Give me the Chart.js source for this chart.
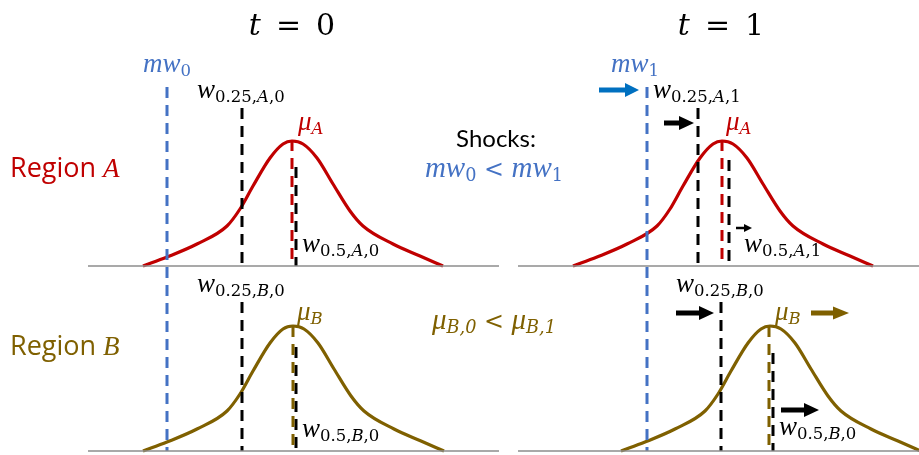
<!DOCTYPE html>
<html>
<head>
<meta charset="utf-8">
<script src="https://cdn.jsdelivr.net/npm/chart.js@4"></script>
<style>
  body { margin: 0; background: #fff; }
  #wrap { width: 919px; height: 455px; position: relative; }
</style>
</head>
<body>
<div id="wrap"><canvas id="grafico_choques"></canvas></div>
<script>
// coordenadas do desenho: x 0..919, y 0..455 (de cima para baixo)

// curvas
var curvaA0x = [143, 167, 197, 227, 240, 253, 270, 283, 292, 303, 317, 333, 350, 363, 393, 420, 443];
var curvaA0y = [266, 257, 244, 226, 209, 186, 158, 144, 141, 144, 158, 184, 211, 226, 244, 256, 266];
var curvaA1x = [573, 597, 627, 657, 670, 683, 700, 713, 722, 733, 747, 763, 780, 793, 823, 850, 873];
var curvaA1y = [266, 257, 244, 226, 209, 186, 158, 144, 141, 144, 158, 184, 211, 226, 244, 256, 266];
var curvaB0x = [143, 167, 197, 227, 240, 253, 270, 283, 293, 304, 318, 334, 351, 364, 394, 421, 444];
var curvaB0y = [451, 442, 429, 411, 394, 371, 343, 329, 326, 329, 343, 369, 396, 411, 429, 441, 451];
var curvaB1x = [621, 645, 675, 705, 718, 731, 748, 761, 770, 781, 795, 811, 828, 841, 871, 898, 921];
var curvaB1y = [451, 442, 429, 411, 394, 371, 343, 329, 326, 329, 343, 369, 396, 411, 429, 441, 451];

// linhas verticais tracejadas
var guiaX      = [167, 647, 242, 292, 296, 698, 722, 729, 242, 293, 296, 721, 769, 773];
var guiaTopo   = [ 87,  87, 108, 140, 167, 108, 140, 160, 302, 326, 347, 302, 326, 353];
var guiaBase   = [451, 451, 266, 266, 266, 266, 266, 266, 451, 451, 451, 451, 451, 451];
var guiaTipo   = ['mw', 'mw', 'q', 'muA', 'q', 'q', 'muA', 'q', 'q', 'muB', 'q', 'q', 'muB', 'q'];

// linhas de base
var baseIni = [88, 518, 88, 518];
var baseFim = [499, 919, 499, 919];
var baseY   = [266, 266, 451, 451];

// setas
var setaIni  = [599, 664, 736, 676, 811, 781];
var setaFim  = [639, 694, 752, 714, 849, 819];
var setaY    = [90, 123, 228, 313, 313, 410];
var setaTipo = ['azul', 'preta', 'pequena', 'preta', 'marrom', 'preta'];

// textos: partes [texto, estilo]
// i = italico, t = italico (titulo), r = normal, s = subscrito, si = subscrito italico, sans / sans2 = texto
var textos = [
  [['t', 't'], ['\u2002=\u20020', 'r']],
  [['t', 't'], ['\u2002=\u20021', 'r']],
  [['mw', 'i'], ['0', 's']],
  [['mw', 'i'], ['1', 's']],
  [['w', 'i'], ['0.25,', 's'], ['A', 'si'], [',0', 's']],
  [['w', 'i'], ['0.25,', 's'], ['A', 'si'], [',1', 's']],
  [['μ', 'i'], ['A', 'si']],
  [['μ', 'i'], ['A', 'si']],
  [['w', 'i'], ['0.5,', 's'], ['A', 'si'], [',0', 's']],
  [['w', 'i'], ['0.5,', 's'], ['A', 'si'], [',1', 's']],
  [['Region ', 'sans'], ['A', 'i']],
  [['Shocks:', 'sans2']],
  [['mw', 'i'], ['0', 's'], [' < ', 'r'], ['mw', 'i'], ['1', 's']],
  [['w', 'i'], ['0.25,', 's'], ['B', 'si'], [',0', 's']],
  [['w', 'i'], ['0.25,', 's'], ['B', 'si'], [',0', 's']],
  [['μ', 'i'], ['B', 'si']],
  [['μ', 'i'], ['B', 'si']],
  [['Region ', 'sans'], ['B', 'i']],
  [['μ', 'i'], ['B,0', 'si'], [' < ', 'r'], ['μ', 'i'], ['B,1', 'si']],
  [['w', 'i'], ['0.5,', 's'], ['B', 'si'], [',0', 's']],
  [['w', 'i'], ['0.5,', 's'], ['B', 'si'], [',0', 's']]
];
var textoX = [292, 721, 143, 611, 197, 653, 298, 726, 302, 744, 10, 496, 494, 197, 676, 297, 775, 10, 494, 302, 779];
var textoY = [35, 35, 72, 72, 98, 98, 130, 130, 252, 252, 177, 147, 177, 292, 292, 320, 320, 355, 329, 437, 435];
var textoCor = ['preto', 'preto', 'azul', 'azul', 'preto', 'preto', 'vermelho', 'vermelho', 'preto', 'preto',
  'vermelho', 'preto', 'azul', 'preto', 'preto', 'marrom', 'marrom', 'marrom', 'marrom', 'preto', 'preto'];
var textoTam = ['grande', 'grande', 'm', 'm', 'm', 'm', 'm', 'm', 'm', 'm',
  'regiao', 'shock', 'rel', 'm', 'm', 'm', 'm', 'regiao', 'rel', 'm', 'm'];
var textoAlinha = ['c', 'c', 'l', 'l', 'l', 'l', 'l', 'l', 'l', 'l', 'l', 'c', 'c', 'l', 'l', 'l', 'l', 'l', 'c', 'l', 'l'];

// estilos
var cores = {
  preto: '#000000',
  azul: '#4472C4',
  vermelho: '#C00000',
  marrom: '#7F6000'
};
var tamanhos = { grande: 30, m: 27, rel: 29, regiao: 27, shock: 24 };
var estiloGuia = {
  mw:  { cor: '#4472C4', dash: [11, 7] },
  q:   { cor: '#000000', dash: [11, 7] },
  muA: { cor: '#C00000', dash: [11, 7] },
  muB: { cor: '#7F6000', dash: [11, 7] }
};
var estiloSeta = {
  azul:    { cor: '#0070C0', haste: 5, cab: 14, alt: 14 },
  preta:   { cor: '#000000', haste: 5, cab: 15, alt: 14 },
  pequena: { cor: '#000000', haste: 2.5, cab: 8, alt: 8 },
  marrom:  { cor: '#7F6000', haste: 5, cab: 16, alt: 13 }
};

function juntar(xs, ys) {
  var pts = [];
  for (var i = 0; i < xs.length; i++) pts.push({ x: xs[i], y: ys[i] });
  return pts;
}

function curva(xs, ys, cor) {
  return {
    data: juntar(xs, ys),
    borderColor: cor,
    borderWidth: 3.2,
    pointRadius: 0,
    showLine: true,
    cubicInterpolationMode: 'monotone',
    clip: false
  };
}

var datasets = [];

for (var b = 0; b < baseY.length; b++) {
  datasets.push({
    data: [{ x: baseIni[b], y: baseY[b] }, { x: baseFim[b], y: baseY[b] }],
    borderColor: '#8C8C8C',
    borderWidth: 1.5,
    pointRadius: 0,
    showLine: true
  });
}

for (var g = 0; g < guiaX.length; g++) {
  var eg = estiloGuia[guiaTipo[g]];
  datasets.push({
    data: [{ x: guiaX[g], y: guiaTopo[g] }, { x: guiaX[g], y: guiaBase[g] }],
    borderColor: eg.cor,
    borderWidth: 3,
    borderDash: eg.dash,
    borderCapStyle: 'butt',
    pointRadius: 0,
    showLine: true
  });
}

datasets.push(curva(curvaA0x, curvaA0y, cores.vermelho));
datasets.push(curva(curvaA1x, curvaA1y, cores.vermelho));
datasets.push(curva(curvaB0x, curvaB0y, cores.marrom));
datasets.push(curva(curvaB1x, curvaB1y, cores.marrom));

function fonte(estilo, tam) {
  if (estilo == 'sans') return tam + 'px "Open Sans"';
  if (estilo == 'sans2') return tam + 'px Lato';
  if (estilo == 'i') return 'italic ' + tam + 'px "Liberation Serif"';
  if (estilo == 't') return 'italic ' + tam + 'px "DejaVu Serif"';
  if (estilo == 'r') return (tam * 0.82).toFixed(1) + 'px "DejaVu Serif"';
  var ts = (tam * 0.61).toFixed(1);
  if (estilo == 'si') return 'italic ' + ts + 'px "DejaVu Serif"';
  return ts + 'px "DejaVu Serif"';
}

var pluginTextos = {
  id: 'textos',
  afterDatasetsDraw: function (chart) {
    var ctx = chart.ctx;
    var sx = chart.scales.x, sy = chart.scales.y;
    ctx.save();

    // setas
    for (var a = 0; a < setaY.length; a++) {
      var es = estiloSeta[setaTipo[a]];
      var x0 = sx.getPixelForValue(setaIni[a]);
      var x1 = sx.getPixelForValue(setaFim[a]);
      var y = sy.getPixelForValue(setaY[a]);
      ctx.fillStyle = es.cor;
      ctx.fillRect(x0, y - es.haste / 2, x1 - es.cab - x0 + 1, es.haste);
      ctx.beginPath();
      ctx.moveTo(x1, y);
      ctx.lineTo(x1 - es.cab, y - es.alt / 2);
      ctx.lineTo(x1 - es.cab, y + es.alt / 2);
      ctx.closePath();
      ctx.fill();
    }

    // textos
    ctx.textBaseline = 'alphabetic';
    ctx.textAlign = 'left';
    for (var t = 0; t < textos.length; t++) {
      var partes = textos[t];
      var tam = tamanhos[textoTam[t]];
      var titulo = partes[0][1] == 't';
      var largura = 0;
      for (var p = 0; p < partes.length; p++) {
        var e0 = partes[p][1];
        ctx.font = (e0 == 'r' && titulo) ? tam + 'px "DejaVu Serif"' : fonte(e0, tam);
        largura += ctx.measureText(partes[p][0]).width;
      }
      var x = sx.getPixelForValue(textoX[t]);
      if (textoAlinha[t] == 'c') x -= largura / 2;
      var yb = sy.getPixelForValue(textoY[t]);
      ctx.fillStyle = cores[textoCor[t]];
      for (var p2 = 0; p2 < partes.length; p2++) {
        var est = partes[p2][1];
        ctx.font = (est == 'r' && titulo) ? tam + 'px "DejaVu Serif"' : fonte(est, tam);
        var dy = (est == 's' || est == 'si') ? 4 : 0;
        ctx.fillText(partes[p2][0], x, yb + dy);
        x += ctx.measureText(partes[p2][0]).width;
      }
    }
    ctx.restore();
  }
};

new Chart(document.getElementById('grafico_choques'), {
  type: 'scatter',
  data: { datasets: datasets },
  options: {
    responsive: true,
    maintainAspectRatio: false,
    animation: false,
    layout: { padding: 0 },
    plugins: { legend: { display: false }, tooltip: { enabled: false } },
    scales: {
      x: { type: 'linear', min: 0, max: 919, display: false },
      y: { type: 'linear', min: 0, max: 455, reverse: true, display: false }
    }
  },
  plugins: [pluginTextos]
});
</script>
</body>
</html>
